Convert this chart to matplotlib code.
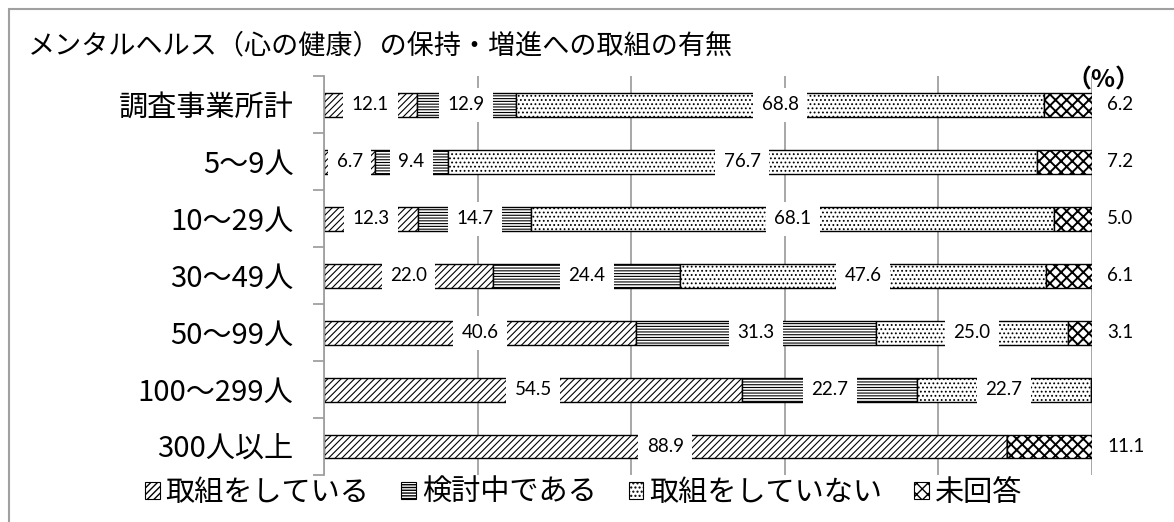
import matplotlib.pyplot as plt
from matplotlib.patches import Patch, Rectangle
import numpy as np

plt.rcParams['font.family'] = ['Noto Sans CJK JP', 'DejaVu Sans']

categories = ['調査事業所計', '5～9人', '10～29人', '30～49人', '50～99人', '100～299人', '300人以上']
doing = [12.1, 6.7, 12.3, 22.0, 40.6, 54.5, 88.9]
considering = [12.9, 9.4, 14.7, 24.4, 31.3, 22.7, 0]
not_doing = [68.8, 76.7, 68.1, 47.6, 25.0, 22.7, 0]
no_answer = [6.2, 7.2, 5.0, 6.1, 3.1, 0, 11.1]

# (legend name, values, hatch, hatch line width)
series = [
    ('取組をしている', doing, '/////', 0.8),
    ('検討中である', considering, '------', 0.8),
    ('取組をしていない', not_doing, '....', 0.8),
    ('未回答', no_answer, 'xxx', 1.4),
]

fig = plt.figure(figsize=(11.74, 5.22), dpi=100)
ax = fig.add_axes([0.276, 0.090, 0.654, 0.764])

y = np.arange(len(categories))
left = np.zeros(len(categories))
num_font = ['Lato', 'DejaVu Sans']
handles = []

for i, (name, vals, hatch, hlw) in enumerate(series):
    vals = np.array(vals)
    with plt.rc_context({'hatch.linewidth': hlw}):
        ax.barh(y, vals, left=left, height=0.42, color='white', edgecolor='black',
                linewidth=1.0, hatch=hatch, zorder=2)
        handles.append(Patch(facecolor='white', edgecolor='black', linewidth=0.8,
                             hatch=hatch, label=name))
    for yi, (l, v) in enumerate(zip(left, vals)):
        if v <= 0:
            continue
        if i == len(series) - 1:
            ax.text(102.0, yi, f'{v:.1f}', ha='left', va='center',
                    fontsize=13.5, family=num_font, zorder=4)
        else:
            ax.text(l + v / 2, yi, f'{v:.1f}', ha='center', va='center',
                    fontsize=13.5, family=num_font, zorder=4,
                    bbox=dict(boxstyle='square,pad=0.45', fc='white', ec='none'))
    left += vals

ax.set_xlim(0, 100)
ax.set_ylim(len(categories) - 0.5, -0.5)
ax.set_xticks([0, 20, 40, 60, 80, 100])
ax.xaxis.grid(True, color='#a0a0a0', linewidth=1.3, zorder=0)
ax.tick_params(axis='x', length=0, labelbottom=False)

ax.set_yticks(y)
ax.set_yticklabels(categories, fontsize=21)
ax.set_yticks(np.arange(len(categories) + 1) - 0.5, minor=True)
ax.tick_params(axis='y', which='major', length=0, pad=22)
ax.tick_params(axis='y', which='minor', length=8, color='#a0a0a0', width=1.3)

for side in ['top', 'right', 'bottom']:
    ax.spines[side].set_visible(False)
ax.spines['left'].set_color('#a0a0a0')
ax.spines['left'].set_linewidth(1.3)
ax.set_axisbelow(True)

fig.text(0.024, 0.912, 'メンタルヘルス（心の健康）の保持・増進への取組の有無',
         fontsize=19.5, ha='left', va='center')
fig.text(0.94, 0.845, '（%）', fontsize=18, ha='center', va='center', weight='bold')

fig.legend(handles=handles, loc='center', bbox_to_anchor=(0.497, 0.056), ncol=4,
           frameon=False, fontsize=21, handlelength=0.5, handleheight=0.5,
           handletextpad=0.2, columnspacing=1.1, borderpad=0)

fig.patches.append(Rectangle((9 / 1174, -0.1), 1.2, 1.1 - 9 / 522,
                             transform=fig.transFigure, fill=False,
                             edgecolor='#a0a0a0', linewidth=1.5))

fig.savefig('out.png', dpi=100)
